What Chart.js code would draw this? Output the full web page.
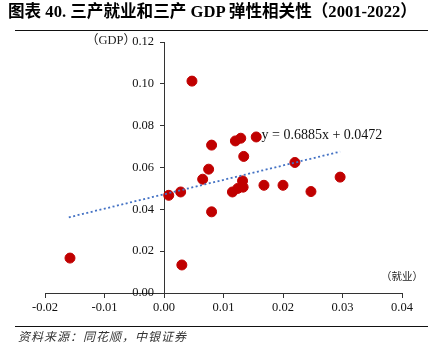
<!DOCTYPE html>
<html>
<head>
<meta charset="utf-8">
<script src="https://cdn.jsdelivr.net/npm/chart.js@4.4.1/dist/chart.umd.min.js"></script>
<style>
  html, body { margin: 0; padding: 0; background: #fff; }
  #wrap { position: relative; width: 436px; height: 350px; overflow: hidden; }
  canvas { position: absolute; left: 0; top: 0; }
  .t { position: absolute; white-space: nowrap; color: #000; }
  #title { left: 8px; top: 2px; font: bold 16.6px "Liberation Serif", "Noto Sans CJK SC", serif; line-height: 20px; }
  #rule1 { position: absolute; left: 15px; top: 30px; width: 413px; height: 1px; background: #111; }
  #rule2 { position: absolute; left: 15px; top: 326px; width: 413px; height: 1px; background: #111; }
  #src { left: 18px; top: 328px; font: italic 12px "Noto Sans CJK SC", sans-serif; line-height: 16px; color: #333; letter-spacing: 1px; }
  #ylab { left: 86px; top: 32px; font: 12.5px "Liberation Serif", "Noto Sans CJK SC", serif; line-height: 16px; color: #222; }
  #xlab { left: 381px; top: 268px; font: 10.5px "Noto Sans CJK SC", serif; line-height: 16px; color: #222; }
</style>
</head>
<body>
<div id="wrap">
  <canvas id="c" width="436" height="350"></canvas>
  <div class="t" id="title">图表 40. 三产就业和三产 GDP 弹性相关性（2001-2022）</div>
  <div id="rule1"></div>
  <div class="t" id="ylab">（GDP）</div>
  <div class="t" id="xlab">（就业）</div>
  <div id="rule2"></div>
  <div class="t" id="src">资料来源：同花顺，中银证券</div>
</div>
<script>
// Employment elasticity (tertiary industry), x values
const EMPLOY = [0.0047, 0.0080, 0.0075, 0.0065, 0.0008, 0.0028, 0.0080, -0.0158, 0.0030, 0.0120, 0.0129,
                0.0155, 0.0134, 0.0132, 0.0220, 0.0296, 0.0168, 0.0200, 0.0247, 0.0115, 0.0124, 0.0133];
// GDP elasticity (tertiary industry), y values
const GDP = [0.1013, 0.0707, 0.0592, 0.0544, 0.0467, 0.0483, 0.0388, 0.0167, 0.0134, 0.0727, 0.0740,
             0.0746, 0.0653, 0.0536, 0.0624, 0.0554, 0.0515, 0.0515, 0.0485, 0.0483, 0.0500, 0.0506];
// Trendline as printed on the chart
const SLOPE = 0.6885;
const INTERCEPT = 0.0472;
const TREND_X = [-0.016, 0.0296];
const TREND_LABEL = 'y = 0.6885x + 0.0472';
const TREND_LABEL_AT = [0.0164, 0.0755];
// Axis ticks
const X_TICKS = [-0.02, -0.01, 0.00, 0.01, 0.02, 0.03, 0.04];
const Y_TICKS = [0.00, 0.02, 0.04, 0.06, 0.08, 0.10, 0.12];

const points = EMPLOY.map((x, i) => ({ x: x, y: GDP[i] }));
const trend = TREND_X.map(x => ({ x: x, y: SLOPE * x + INTERCEPT }));

const tickFontCss = '12.5px "Liberation Serif", serif';

const labelPlugin = {
  id: 'trendLabel',
  afterDatasetsDraw(chart) {
    const ctx = chart.ctx;
    const xs = chart.scales.x, ys = chart.scales.y;
    ctx.save();
    // trendline equation
    ctx.font = '14px "Liberation Serif", serif';
    ctx.fillStyle = '#111';
    ctx.textAlign = 'left';
    ctx.textBaseline = 'middle';
    ctx.fillText(TREND_LABEL, xs.getPixelForValue(TREND_LABEL_AT[0]), ys.getPixelForValue(TREND_LABEL_AT[1]));
    // y tick labels, left of the centred y axis
    ctx.font = tickFontCss;
    ctx.textAlign = 'right';
    const ax = xs.getPixelForValue(0);
    Y_TICKS.forEach(v => {
      ctx.fillText(v.toFixed(2), ax - 10, ys.getPixelForValue(v));
    });
    ctx.restore();
  }
};

const axisColor = '#333';
const tickFont = { family: '"Liberation Serif", serif', size: 12.5 };

new Chart(document.getElementById('c'), {
  type: 'scatter',
  data: {
    datasets: [
      {
        type: 'scatter',
        data: points,
        backgroundColor: '#C00000',
        borderColor: '#C00000',
        pointRadius: 5,
        pointHoverRadius: 5,
        order: 1
      },
      {
        type: 'line',
        data: trend,
        borderColor: '#4472C4',
        borderWidth: 1.8,
        borderDash: [2, 2.5],
        pointRadius: 0,
        fill: false,
        order: 0
      }
    ]
  },
  options: {
    responsive: false,
    animation: false,
    events: [],
    layout: { padding: { left: 45, right: 34, top: 42, bottom: 57 } },
    plugins: { legend: { display: false }, tooltip: { enabled: false } },
    scales: {
      x: {
        type: 'linear',
        position: { y: 0 },
        min: X_TICKS[0],
        max: X_TICKS[X_TICKS.length - 1],
        afterBuildTicks: s => { s.ticks = X_TICKS.map(v => ({ value: v })); },
        grid: { display: true, drawOnChartArea: false, drawTicks: true, tickLength: 4, color: axisColor },
        border: { display: true, color: axisColor, width: 1 },
        ticks: { color: '#111', font: tickFont, padding: 3, maxRotation: 0, callback: v => Number(v).toFixed(2) }
      },
      y: {
        type: 'linear',
        position: { x: 0 },
        min: Y_TICKS[0],
        max: Y_TICKS[Y_TICKS.length - 1],
        afterBuildTicks: s => { s.ticks = Y_TICKS.map(v => ({ value: v })); },
        grid: { display: true, drawOnChartArea: false, drawTicks: true, tickLength: 4, color: axisColor },
        border: { display: true, color: axisColor, width: 1 },
        ticks: { display: false }
      }
    }
  },
  plugins: [labelPlugin]
});
</script>
</body>
</html>
